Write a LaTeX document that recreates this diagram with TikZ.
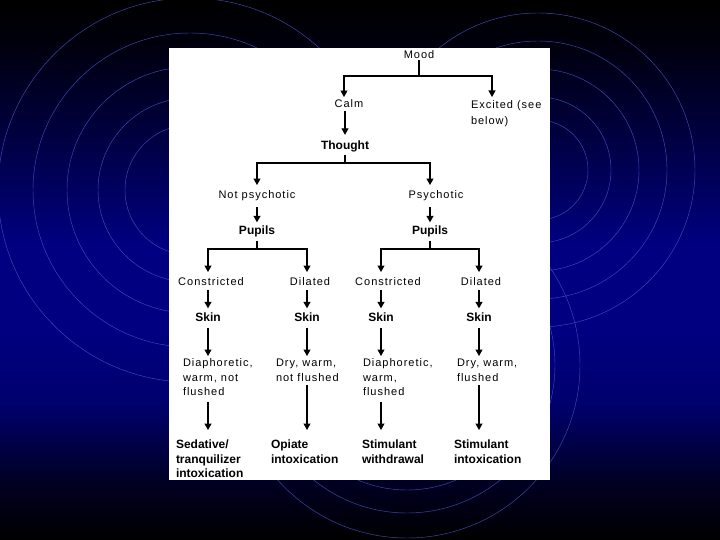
\documentclass[tikz,border=0pt]{standalone}
\usepackage{fontspec}
\setmainfont{Liberation Sans}
\newfontfamily\regfam[LetterSpace=9]{Liberation Sans}
\usetikzlibrary{arrows.meta}
\definecolor{navy}{RGB}{0,0,128}
\definecolor{ring}{RGB}{65,75,180}
\pgfdeclareverticalshading{bg}{100bp}{color(0bp)=(black); color(25bp)=(black); color(30bp)=(navy!25!black); color(37.5bp)=(navy!85!black); color(44bp)=(navy); color(52.5bp)=(navy); color(62.5bp)=(navy!50!black); color(71bp)=(navy!10!black); color(75bp)=(black); color(100bp)=(black)}
\begin{document}
\begin{tikzpicture}[x=1pt,y=-1pt,
  reg/.style={font=\regfam\fontsize{11}{14.5}\selectfont, inner sep=0pt, outer sep=0pt, anchor=base},
  bld/.style={font=\bfseries\fontsize{12}{14.5}\selectfont, inner sep=0pt, outer sep=0pt, anchor=base},
  regm/.style={reg, align=left, anchor=north west},
  bldm/.style={bld, align=left, anchor=north west},
  ln/.style={line width=1.1pt},
  arr/.style={line width=1.1pt, -{Triangle[width=7pt,length=6.5pt]}},
  ringline/.style={draw=ring, line width=0.45pt}]
% background
\useasboundingbox (0,0) rectangle (720,540);
\shade[shading=bg] (0,0) rectangle (720,540);
\foreach \r in {65,92,123,157,192} \draw[ringline] (190,190) circle[radius=\r];
\foreach \r in {50,73,101,129,157} \draw[ringline] (538,170) circle[radius=\r];
\foreach \r in {125,148,173} \draw[ringline] (407,365) circle[radius=\r];
% panel
\fill[white] (169,48) rectangle (550,480);
% nodes
\node[reg] (mood) at (419,59) {Mood};
\node[reg] (calm) at (349,108) {Calm};
\node[regm, font=\regfam\fontsize{11}{16}\selectfont] (exc) at (471,101) {Excited (see\\below)};
\node[bld] (thought) at (345,149.5) {Thought};
\node[reg] (np) at (257,199) {Not psychotic};
\node[reg] (ps) at (436,199) {Psychotic};
\node[bld] (pl) at (257,235) {Pupils};
\node[bld] (pr) at (430,235) {Pupils};
\node[reg] (c1) at (211,285) {Constricted};
\node[reg] (d1) at (310,285) {Dilated};
\node[reg] (c2) at (388,285) {Constricted};
\node[reg] (d2) at (481,285) {Dilated};
\node[bld] (s1) at (208,321.5) {Skin};
\node[bld] (s2) at (307,321.5) {Skin};
\node[bld] (s3) at (381,321.5) {Skin};
\node[bld] (s4) at (479,321.5) {Skin};
\node[regm] (t1) at (183,359) {Diaphoretic,\\warm, not\\flushed};
\node[regm] (t2) at (276,359) {Dry, warm,\\not flushed};
\node[regm] (t3) at (363,359) {Diaphoretic,\\warm,\\flushed};
\node[regm] (t4) at (457,359) {Dry, warm,\\flushed};
\node[bldm] (f1) at (176,440) {Sedative/\\tranquilizer\\intoxication};
\node[bldm] (f2) at (271,440) {Opiate\\intoxication};
\node[bldm] (f3) at (362,440) {Stimulant\\withdrawal};
\node[bldm] (f4) at (454,440) {Stimulant\\intoxication};
% connectors
\coordinate (jm) at (mood.south |- 0,76);
\draw[ln, shorten <=1pt] (mood.south) -- (jm);
\draw[arr, shorten >=3pt] (jm) -| (calm.north -| 344,0);
\draw[arr, shorten >=4pt] (jm) -| (exc.north -| 492,0);
\draw[arr, shorten <=3pt, shorten >=6pt] (calm.south -| thought) -- (thought.north);
\coordinate (jt) at (thought.south |- 0,163);
\draw[ln, shorten <=3pt] (thought.south) -- (jt);
\draw[arr, shorten >=6pt] (jt) -| (np.north);
\draw[arr, shorten >=6pt] (jt) -| (ps.north -| pr);
\draw[arr, shorten <=6pt, shorten >=4pt] (np.south) -- (pl.north);
\draw[arr, shorten <=6pt, shorten >=4pt] (ps.south -| pr) -- (pr.north);
\coordinate (jl) at (pl.south |- 0,249);
\draw[ln, shorten <=3.5pt] (pl.south) -- (jl);
\draw[arr, shorten >=5pt] (jl) -| (c1.north -| s1);
\draw[arr, shorten >=5pt] (jl) -| (d1.north -| s2);
\coordinate (jr) at (pr.south |- 0,249);
\draw[ln, shorten <=3.5pt] (pr.south) -- (jr);
\draw[arr, shorten >=5pt] (jr) -| (c2.north -| s3);
\draw[arr, shorten >=5pt] (jr) -| (d2.north -| s4);
\draw[arr, shorten <=5pt, shorten >=4.5pt] (c1.south -| s1) -- (s1.north);
\draw[arr, shorten <=5pt, shorten >=4.5pt] (d1.south -| s2) -- (s2.north);
\draw[arr, shorten <=5pt, shorten >=4.5pt] (c2.south -| s3) -- (s3.north);
\draw[arr, shorten <=5pt, shorten >=4.5pt] (d2.south -| s4) -- (s4.north);
\draw[arr, shorten <=6.5pt, shorten >=3pt] (s1.south) -- (s1.south |- t1.north);
\draw[arr, shorten <=6.5pt, shorten >=3pt] (s2.south) -- (s2.south |- t2.north);
\draw[arr, shorten <=6.5pt, shorten >=3pt] (s3.south) -- (s3.south |- t3.north);
\draw[arr, shorten <=6.5pt, shorten >=3pt] (s4.south) -- (s4.south |- t4.north);
\draw[arr, shorten <=6pt, shorten >=10pt] (t1.south -| s1) -- (s1 |- f1.north);
\draw[arr, shorten <=4pt, shorten >=10pt] (t2.south -| s2) -- (s2 |- f2.north);
\draw[arr, shorten <=6pt, shorten >=10pt] (t3.south -| s3) -- (s3 |- f3.north);
\draw[arr, shorten <=4pt, shorten >=10pt] (t4.south -| s4) -- (s4 |- f4.north);
\end{tikzpicture}
\end{document}
